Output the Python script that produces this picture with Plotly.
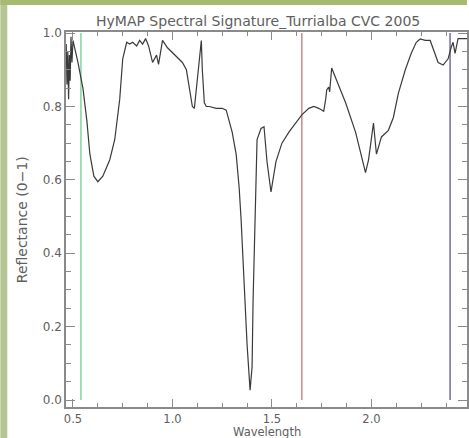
import plotly.graph_objects as go

# Spectrum (wavelength in micrometres, reflectance 0-1)
wavelength = [0.466, 0.470, 0.474, 0.478, 0.482, 0.486, 0.490, 0.495, 0.500,
              0.525, 0.550, 0.570, 0.585, 0.605, 0.625, 0.650, 0.685, 0.710,
              0.735, 0.750, 0.770, 0.785, 0.800, 0.820, 0.835, 0.850, 0.865,
              0.880, 0.900, 0.920, 0.930, 0.945, 0.950, 0.975, 1.010, 1.050,
              1.070, 1.085, 1.100, 1.110, 1.125, 1.135, 1.145, 1.150, 1.160,
              1.170, 1.185, 1.220, 1.250, 1.270, 1.285, 1.300, 1.320, 1.335,
              1.345, 1.360, 1.375, 1.390, 1.400, 1.405, 1.415, 1.425, 1.445,
              1.460, 1.475, 1.495, 1.520, 1.550, 1.585, 1.620, 1.650, 1.685,
              1.710, 1.735, 1.760, 1.770, 1.775, 1.785, 1.790, 1.800, 1.870,
              1.920, 1.970, 1.985, 2.010, 2.025, 2.035, 2.050, 2.085, 2.110,
              2.135, 2.170, 2.200, 2.225, 2.245, 2.270, 2.295, 2.310, 2.335,
              2.360, 2.385, 2.400, 2.410, 2.420, 2.435, 2.480]
reflectance = [0.97, 0.86, 0.95, 0.82, 0.94, 0.87, 0.99, 0.92, 0.98,
               0.92, 0.85, 0.76, 0.67, 0.61, 0.595, 0.61, 0.655, 0.71,
               0.82, 0.93, 0.975, 0.97, 0.975, 0.965, 0.98, 0.97, 0.985,
               0.965, 0.92, 0.94, 0.915, 0.96, 0.98, 0.96, 0.94, 0.92,
               0.90, 0.85, 0.80, 0.795, 0.87, 0.935, 0.98, 0.90, 0.81,
               0.80, 0.80, 0.795, 0.795, 0.79, 0.76, 0.73, 0.67, 0.58,
               0.49, 0.30, 0.15, 0.027, 0.09, 0.27, 0.50, 0.71, 0.74,
               0.745, 0.65, 0.567, 0.65, 0.70, 0.73, 0.755, 0.777, 0.795,
               0.80, 0.795, 0.787, 0.82, 0.845, 0.853, 0.84, 0.905, 0.81,
               0.73, 0.62, 0.654, 0.755, 0.67, 0.69, 0.717, 0.735, 0.77,
               0.836, 0.90, 0.945, 0.975, 0.984, 0.98, 0.98, 0.955, 0.92,
               0.913, 0.93, 0.96, 0.975, 0.945, 0.985, 0.985]

# Band marker lines
band_positions = [0.54, 1.65, 2.395]
band_colors = ["#86d4a4", "#c98a8a", "#6f6f9c"]

title_text = "HyMAP Spectral Signature_Turrialba CVC 2005"
x_title = "Wavelength"
y_title = "Reflectance (0\u22121)"
x_ticks = [0.5, 1.0, 1.5, 2.0]
y_ticks = [0.0, 0.2, 0.4, 0.6, 0.8, 1.0]

W, H = 469, 438
L, R, T, B = 66, 0, 32, 31
pw, ph = W - L - R, H - T - B

fig = go.Figure()
for xb, cb in zip(band_positions, band_colors):
    fig.add_trace(go.Scatter(x=[xb, xb], y=[0, 1], mode="lines",
                             line=dict(color=cb, width=1.5), showlegend=False,
                             hoverinfo="skip"))
fig.add_trace(go.Scatter(x=wavelength, y=reflectance, mode="lines",
                         line=dict(color="#3a3a3a", width=1.2), showlegend=False))

axcol = "#8a8a8a"
txtcol = "#5e5e5e"
fig.update_xaxes(range=[0.465, 0.465 + pw / 200.0], tickvals=x_ticks,
                 ticktext=[f"{v:.1f}" for v in x_ticks],
                 ticks="inside", ticklen=8, tickcolor=axcol, tickwidth=1,
                 minor=dict(dtick=0.125, tick0=0.5, ticks="inside", ticklen=4,
                            tickcolor=axcol),
                 showline=True, linecolor=axcol, linewidth=1.5, mirror="allticks",
                 showgrid=False, zeroline=False, ticklabelstandoff=0,
                 tickfont=dict(family="DejaVu Sans", size=11.5, color=txtcol))
fig.update_yaxes(range=[-0.019, 1.003], tickvals=y_ticks,
                 ticktext=[f"{v:.1f}" for v in y_ticks],
                 ticks="inside", ticklen=9, tickcolor=axcol, tickwidth=1,
                 minor=dict(dtick=0.05, tick0=0, ticks="inside", ticklen=5,
                            tickcolor=axcol),
                 showline=True, linecolor=axcol, linewidth=1.5, mirror="allticks",
                 showgrid=False, zeroline=False,
                 tickfont=dict(family="DejaVu Sans", size=12, color=txtcol))

def px2x(p):
    return (p - L) / pw

def py2y(p):
    return (H - B - p) / ph

shapes = [
    dict(type="rect", xref="paper", yref="paper", x0=px2x(0), x1=px2x(7),
         y0=py2y(H), y1=py2y(0), fillcolor="#b5c594", line=dict(width=0), layer="above"),
    dict(type="rect", xref="paper", yref="paper", x0=px2x(0), x1=px2x(W),
         y0=py2y(5), y1=py2y(0), fillcolor="#a6ba70", line=dict(width=0), layer="above"),
]

annotations = [
    dict(text=title_text, xref="paper", yref="paper", x=px2x(259), y=py2y(21),
         showarrow=False, font=dict(family="DejaVu Sans", size=14, color=txtcol),
         xanchor="center", yanchor="middle"),
    dict(text=x_title, xref="paper", yref="paper", x=px2x(268), y=py2y(432),
         showarrow=False, font=dict(family="DejaVu Sans", size=11.5, color=txtcol),
         xanchor="center", yanchor="middle"),
    dict(text=y_title, xref="paper", yref="paper", x=px2x(22), y=py2y(220),
         showarrow=False, textangle=-90,
         font=dict(family="DejaVu Sans", size=14, color=txtcol),
         xanchor="center", yanchor="middle"),
]

fig.update_layout(width=W, height=H, margin=dict(l=L, r=R, t=T, b=B),
                  paper_bgcolor="white", plot_bgcolor="white",
                  shapes=shapes, annotations=annotations, showlegend=False)

fig.write_html("out.html", config={"displayModeBar": False},
               post_script="document.body.style.margin='0';"
                           "document.body.style.overflow='hidden';")
